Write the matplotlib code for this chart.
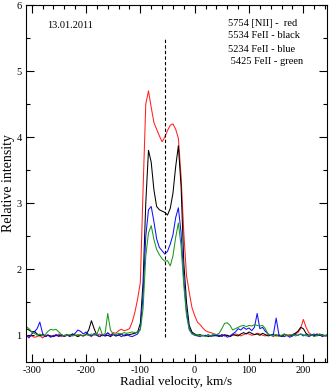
import numpy as np
import matplotlib
matplotlib.use('Agg')
import matplotlib.pyplot as plt
from matplotlib.ticker import MultipleLocator, FormatStrFormatter

plt.rcParams['font.family'] = ['Liberation Serif', 'DejaVu Serif']
plt.rcParams['axes.unicode_minus'] = False

# radial velocity grid, km/s (step 5)
velocity = np.arange(-310, 251, 5)

# 5754 [NII]
red = [1.00, 0.98, 0.99, 0.97, 0.98, 1.00, 0.96, 0.99, 1.01, 0.98,
       1.00, 0.99, 1.02, 0.98, 1.00, 1.01, 0.99, 1.02, 1.00, 0.99,
       1.01, 0.99, 1.02, 1.00, 0.98, 1.03, 1.00, 1.02, 0.99, 1.01,
       1.03, 1.00, 1.04, 1.03, 1.07, 1.09, 1.07, 1.08, 1.10, 1.20,
       1.35, 1.55, 1.80, 3.20, 4.50, 4.70, 4.45, 4.22, 4.12, 4.02,
       3.93, 4.00, 4.10, 4.18, 4.20, 4.12, 3.98, 3.40, 2.55, 1.90,
       1.65, 1.42, 1.30, 1.20, 1.16, 1.11, 1.07, 1.05, 1.04, 1.02,
       1.01, 1.00, 0.99, 1.01, 1.00, 0.98, 1.00, 1.02, 1.01, 0.99,
       1.01, 1.03, 1.02, 1.00, 1.01, 1.03, 1.02, 1.00, 0.99, 1.01,
       1.00, 0.98, 1.01, 1.00, 0.99, 1.02, 1.00, 1.01, 0.99, 1.02,
       1.04, 1.10, 1.24, 1.12, 1.04, 1.01, 0.99, 1.00, 1.02, 0.99,
       1.00, 0.98, 1.01]

# 5534 FeII
black = [1.10, 1.08, 1.05, 1.06, 1.02, 0.99, 1.01, 0.98, 1.00, 0.99,
         0.98, 1.00, 0.99, 1.01, 0.98, 1.00, 0.99, 1.02, 1.00, 0.98,
         1.00, 0.99, 1.01, 1.08, 1.22, 1.10, 1.00, 0.98, 1.01, 0.99,
         1.00, 0.98, 1.01, 0.99, 1.00, 1.02, 0.99, 1.00, 1.01, 1.02,
         1.03, 1.05, 1.18, 1.80, 3.00, 3.80, 3.62, 3.20, 2.95, 2.90,
         2.88, 2.86, 2.82, 2.92, 3.15, 3.55, 3.87, 3.25, 2.10, 1.50,
         1.15, 1.05, 1.02, 1.00, 1.01, 0.99, 1.00, 0.98, 1.00, 0.99,
         1.00, 0.98, 1.01, 0.99, 1.00, 0.98, 1.01, 1.00, 0.99, 1.02,
         1.04, 1.02, 1.05, 1.03, 1.01, 1.02, 1.00, 1.03, 1.01, 0.99,
         1.00, 1.01, 0.99, 1.00, 0.98, 1.01, 1.00, 0.99, 1.01, 1.03,
         1.06, 1.12, 1.10, 1.03, 1.00, 1.01, 0.99, 1.02, 1.00, 1.01,
         0.99, 1.01, 1.00]

# 5234 FeII
blue = [1.00, 0.96, 1.02, 1.05, 1.10, 1.20, 1.03, 0.98, 1.00, 0.97,
        0.99, 1.01, 0.98, 1.00, 0.99, 1.01, 0.98, 1.00, 1.03, 1.08,
        1.06, 1.02, 1.05, 1.01, 0.99, 1.02, 1.00, 0.98, 1.01, 0.99,
        1.04, 1.00, 1.02, 0.99, 1.01, 0.98, 1.00, 1.02, 0.99, 0.98,
        1.00, 1.02, 1.10, 1.60, 2.50, 2.90, 2.95, 2.72, 2.46, 2.33,
        2.28, 2.23, 2.27, 2.38, 2.52, 2.78, 2.93, 2.55, 1.85, 1.35,
        1.10, 1.03, 1.00, 0.99, 0.98, 1.00, 0.99, 1.01, 0.98, 1.00,
        0.99, 1.00, 0.98, 1.01, 0.97, 0.99, 1.02, 1.05, 1.10, 1.08,
        1.12, 1.09, 1.11, 1.07, 1.12, 1.33, 1.10, 1.12, 1.06, 1.02,
        1.00, 1.02, 1.26, 1.01, 0.99, 0.98, 1.00, 0.97, 0.99, 1.01,
        1.00, 1.02, 0.99, 1.01, 0.98, 1.00, 1.02, 0.99, 1.01, 0.98,
        1.00, 0.99, 1.00]

# 5425 FeII
green = [1.13, 1.10, 1.05, 1.03, 1.00, 1.02, 0.99, 1.01, 1.06, 1.09,
         1.08, 1.09, 1.05, 1.01, 0.99, 1.00, 1.01, 0.99, 1.00, 1.01,
         1.00, 0.99, 1.01, 1.00, 1.02, 1.00, 1.01, 1.13, 1.01, 1.02,
         1.33, 1.08, 1.02, 1.01, 1.03, 1.02, 1.04, 1.03, 1.04, 1.05,
         1.04, 1.05, 1.08, 1.40, 2.20, 2.55, 2.66, 2.45, 2.30, 2.22,
         2.16, 2.12, 2.13, 2.05, 2.20, 2.48, 2.70, 2.35, 1.75, 1.30,
         1.08, 1.02, 1.00, 1.01, 0.99, 1.00, 0.98, 1.00, 0.99, 1.02,
         1.01, 1.03, 1.10, 1.18, 1.19, 1.15, 1.08, 1.10, 1.12, 1.14,
         1.15, 1.13, 1.15, 1.14, 1.16, 1.15, 1.14, 1.15, 1.10, 1.02,
         1.00, 0.99, 1.01, 0.98, 1.00, 1.02, 0.99, 1.00, 1.01, 0.99,
         1.00, 1.02, 1.01, 0.99, 1.00, 1.01, 0.98, 1.00, 1.02, 1.00,
         0.99, 1.01, 1.00]

date_label = '13.01.2011'
line_labels = ['5754 [NII] -  red', '5534 FeII - black',
               '5234 FeII - blue', ' 5425 FeII - green']
center_velocity = -55

fig = plt.figure(figsize=(3.32, 3.90), dpi=100)
ax = fig.add_axes([25.7 / 332, 1 - 361.7 / 390, 301 / 332, 356.7 / 390])

lw = 0.75
ax.plot(velocity, red, color='#ff2020', lw=lw)
ax.plot(velocity, black, color='black', lw=lw)
ax.plot(velocity, blue, color='#1010ff', lw=lw)
ax.plot(velocity, green, color='#1a9a1a', lw=lw)

ax.vlines(center_velocity, 0.97, 5.5, colors='black', linestyles=(0, (3, 2)), lw=0.8)

ax.set_xlim(-311, 243)
ax.set_ylim(0.6, 6)
ax.xaxis.set_major_locator(MultipleLocator(100))
ax.xaxis.set_minor_locator(MultipleLocator(20))
ax.yaxis.set_major_locator(MultipleLocator(1))
ax.yaxis.set_minor_locator(MultipleLocator(0.5))
ax.yaxis.set_major_formatter(FormatStrFormatter('%d'))
ax.tick_params(which='both', direction='in', top=True, right=True, labelsize=7.5, width=0.8)
ax.tick_params(which='major', length=6, pad=3)
ax.tick_params(which='minor', length=3)
for s in ax.spines.values():
    s.set_linewidth(0.8)

ax.set_xlabel('Radial velocity, km/s', fontsize=9.5, labelpad=1)
ax.set_ylabel('Relative intensity', fontsize=10, labelpad=1)

fig.text(47 / 332, 1 - 26 / 390, date_label, fontsize=7.5, va='center')
for lab, ypx in zip(line_labels, [23, 36, 49, 61]):
    fig.text(228 / 332, 1 - ypx / 390, lab, fontsize=7.5, va='center')

fig.savefig('out.png', dpi=100)
